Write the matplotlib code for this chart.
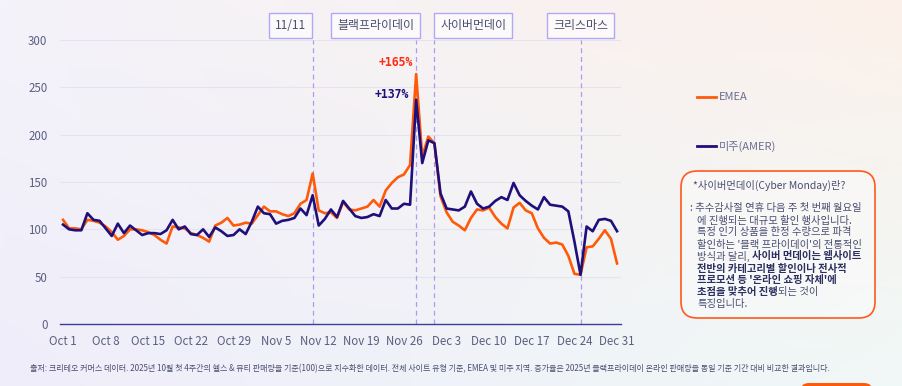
import numpy as np
import matplotlib
matplotlib.use("Agg")
import matplotlib.pyplot as plt
import matplotlib.transforms as mtransforms
from matplotlib.patches import FancyBboxPatch
from matplotlib.lines import Line2D

plt.rcParams['font.family'] = ['Noto Sans CJK KR', 'DejaVu Sans']

# ---------------- data ----------------
days = list(range(92))  # Oct 1 .. Dec 31
emea = [110, 101, 101, 100, 110, 109, 107, 103, 97, 89,
        93, 100, 100, 99, 97, 94, 89, 85, 103, 102,
        101, 96, 94, 91, 87, 104, 107, 112, 104, 105,
        107, 106, 115, 124, 119, 119, 116, 114, 117, 127,
        131, 159, 120, 117, 118, 112, 129, 121, 120, 122,
        124, 131, 124, 141, 149, 155, 158, 168, 264, 177,
        198, 191, 135, 118, 108, 104, 99, 112, 121, 120,
        123, 113, 106, 101, 123, 128, 120, 117, 101, 91,
        85, 86, 84, 72, 53, 52, 81, 82, 90, 99,
        90, 64]
amer = [105, 100, 99, 99, 117, 110, 109, 101, 93, 106,
        96, 104, 99, 94, 96, 96, 95, 99, 110, 100,
        103, 95, 94, 100, 92, 102, 98, 93, 94, 100,
        95, 108, 124, 117, 116, 106, 109, 110, 112, 122,
        115, 136, 104, 111, 121, 113, 130, 122, 114, 112,
        113, 116, 114, 131, 122, 122, 127, 126, 237, 170,
        194, 191, 138, 122, 121, 120, 124, 140, 127, 122,
        124, 130, 134, 131, 149, 136, 130, 125, 121, 134,
        126, 125, 124, 119, 87, 52, 103, 98, 110, 111,
        109, 98]
tick_days = [0, 7, 14, 21, 28, 35, 42, 49, 56, 63, 70, 77, 84, 91]
tick_labels = ["Oct 1", "Oct 8", "Oct 15", "Oct 22", "Oct 29", "Nov 5", "Nov 12",
               "Nov 19", "Nov 26", "Dec 3", "Dec 10", "Dec 17", "Dec 24", "Dec 31"]
event_days = [41, 58, 61, 85]
event_labels = ["11/11", "블랙프라이데이", "사이버먼데이", "크리스마스"]
event_label_pos = [37.4, 51.4, 67.4, 85.0]
y_ticks = [0, 50, 100, 150, 200, 250, 300]
peak_labels = ["+165%", "+137%"]

C_EMEA = "#ff5a0a"
C_AMER = "#1e0f7a"
TXT = "#5b5f80"

W, H = 902, 386
fig = plt.figure(figsize=(W / 100, H / 100), dpi=100)

# background gradient
bg = fig.add_axes([0, 0, 1, 1], zorder=-10)
gx = np.linspace(0, 1, 200)[None, :, None]
gy = np.linspace(0, 1, 100)[:, None, None]
TL = np.array([244, 243, 250]) / 255
TR = np.array([252, 241, 234]) / 255
BL = np.array([239, 237, 250]) / 255
BR = np.array([240, 248, 247]) / 255
img = (1 - gy) * ((1 - gx) * TL + gx * TR) + gy * ((1 - gx) * BL + gx * BR)
bg.imshow(img, aspect='auto', extent=[0, 1, 0, 1], origin='upper')
bg.set_axis_off()

def fx(px):
    return px / W

def fy(py):
    return 1 - py / H

ax = fig.add_axes([fx(60), fy(324), fx(620.7) - fx(60), fy(40) - fy(324)])
ax.set_facecolor('none')
ax.set_xlim(-0.5, 91.6)
ax.set_ylim(0, 300)
for s in ['top', 'right', 'left']:
    ax.spines[s].set_visible(False)
ax.spines['bottom'].set_color('#3c4090')
ax.spines['bottom'].set_linewidth(1.0)
ax.set_yticks(y_ticks)
ax.set_yticklabels([str(v) for v in y_ticks])
ax.set_xticks(tick_days)
ax.set_xticklabels(tick_labels)
ax.tick_params(axis='both', length=0, labelsize=8.3, colors=TXT)
ax.tick_params(axis='y', pad=9)
ax.tick_params(axis='x', pad=8)
for v in y_ticks[1:]:
    ax.axhline(v, color='#e4e3f0', lw=0.8, zorder=0)

for d in event_days:
    ax.axvline(d, ymin=0, ymax=1, color='#a99cf2', lw=0.9, ls=(0, (4, 3)), zorder=1)

ax.plot(days, emea, color=C_EMEA, lw=1.9, solid_joinstyle='round', zorder=3)
ax.plot(days, amer, color=C_AMER, lw=1.9, solid_joinstyle='round', zorder=4)

blend = mtransforms.blended_transform_factory(ax.transData, fig.transFigure)
for lab, pos in zip(event_labels, event_label_pos):
    ax.text(pos, fy(25.5), lab, transform=blend,
            ha='center', va='center', fontsize=8.6, color='#4a4e70',
            bbox=dict(boxstyle='square,pad=0.5', fc=(1, 1, 1, 0.6), ec='#b3a8f5', lw=1.0),
            clip_on=False)

ax.text(54.7, 276, peak_labels[0], color='#ff2a10', fontsize=8.3, fontweight='bold',
        family='DejaVu Sans Mono', ha='center', va='center', clip_on=False)
ax.text(54.0, 242, peak_labels[1], color=C_AMER, fontsize=8.3, fontweight='bold',
        family='DejaVu Sans Mono', ha='center', va='center', clip_on=False)

# legend
fig.add_artist(Line2D([fx(697), fx(716)], [fy(97), fy(97)], color=C_EMEA, lw=2))
fig.text(fx(719), fy(97), "EMEA", fontsize=8, color='#6a6e90', va='center')
fig.add_artist(Line2D([fx(697), fx(716)], [fy(146), fy(146)], color=C_AMER, lw=2))
fig.text(fx(719), fy(146), "미주(AMER)", fontsize=8, color='#6a6e90', va='center')

# info box
box = FancyBboxPatch((fx(681), fy(318)), fx(875) - fx(681), fy(171) - fy(318),
                     boxstyle="round,pad=0,rounding_size=0.018",
                     fc=(1, 1, 1, 0.35), ec='#ff5a1a', lw=1.2,
                     transform=fig.transFigure, mutation_aspect=W / H)
fig.add_artist(box)

renderer = fig.canvas.get_renderer()
NORMAL = '#4a4e70'
BOLD = '#2c3060'

def seg_line(x_px, y_px, segments, size=7.45):
    x = x_px
    for txt, bold in segments:
        t = fig.text(fx(x), fy(y_px), txt, fontsize=size,
                     color=BOLD if bold else NORMAL,
                     fontweight='bold' if bold else 'normal', va='center', ha='left')
        bb = t.get_window_extent(renderer=renderer)
        x += bb.width

seg_line(693, 185, [("*사이버먼데이(Cyber Monday)란?", False)])
lines = [
    (690, 208, [(": 추수감사절 연휴 다음 주 첫 번째 월요일", False)]),
    (697, 220.5, [("에 진행되는 대규모 할인 행사입니다.", False)]),
    (697, 232.5, [("특정 인기 상품을 한정 수량으로 파격", False)]),
    (697, 244.5, [("할인하는 '블랙 프라이데이'의 전통적인", False)]),
    (697, 256.5, [("방식과 달리, ", False), ("사이버 먼데이는 웹사이트", True)]),
    (697, 268.5, [("전반의 카테고리별 할인이나 전사적", True)]),
    (697, 280.5, [("프로모션 등 '온라인 쇼핑 자체'에", True)]),
    (697, 292.5, [("초점을 맞추어 진행", True), ("되는 것이", False)]),
    (697, 304.5, [("특징입니다.", False)]),
]
for x0, y0, segs in lines:
    seg_line(x0, y0, segs)

# footer
fig.text(fx(30), fy(369),
         "출처: 크리테오 커머스 데이터. 2025년 10월 첫 4주간의 헬스 & 뷰티 판매량을 기준(100)으로 지수화한 데이터. "
         "전체 사이트 유형 기준, EMEA 및 미주 지역. 증가율은 2025년 블랙프라이데이 온라인 판매량을 동일 기준 기간 대비 비교한 결과입니다.",
         fontsize=5.8, color='#4a4e70', va='center', ha='left')

# partial orange button at bottom right
btn = FancyBboxPatch((fx(800), fy(400)), fx(873) - fx(800), fy(383) - fy(400),
                     boxstyle="round,pad=0,rounding_size=0.01",
                     fc='#ff5a0a', ec='none', transform=fig.transFigure,
                     mutation_aspect=W / H)
fig.add_artist(btn)

fig.savefig("out.png", dpi=100)
